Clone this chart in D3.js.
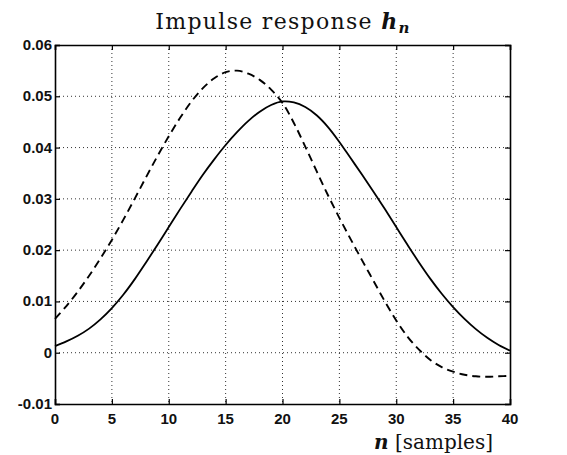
<!DOCTYPE html>
<html>
<head>
<meta charset="utf-8">
<script src="https://cdn.jsdelivr.net/npm/d3@7"></script>
<style>
  body { margin: 0; background: #fff; }
  .tick-label { font-family: "Liberation Sans", Arial, sans-serif; font-weight: bold; font-size: 15px; fill: #111; }
  .serif { font-family: "DejaVu Serif", "Liberation Serif", serif; fill: #111; }
</style>
</head>
<body>
<div id="chart-area"></div>
<script>
// sample index n
var samples = [0,1,2,3,4,5,6,7,8,9,10,11,12,13,14,15,16,17,18,19,20,
               21,22,23,24,25,26,27,28,29,30,31,32,33,34,35,36,37,38,39,40];

// solid curve
var hSolid = [0.0013,0.0022,0.0033,0.0047,0.0065,0.0087,0.0113,0.0143,0.0176,0.0210,
              0.0245,0.0280,0.0314,0.0347,0.0377,0.0405,0.0430,0.0452,0.0470,0.0483,
              0.0490,0.0488,0.0479,0.0463,0.0440,0.0411,0.0379,0.0347,0.0314,0.0280,
              0.0245,0.0210,0.0176,0.0144,0.0115,0.0089,0.0066,0.0046,0.0029,0.0015,0.0004];

// dashed curve
var hDashed = [0.0066,0.0091,0.0119,0.0150,0.0184,0.0220,0.0259,0.0300,0.0342,0.0383,
               0.0422,0.0458,0.0490,0.0516,0.0535,0.0547,0.0550,0.0544,0.0532,0.0513,
               0.0487,0.0448,0.0402,0.0354,0.0307,0.0263,0.0221,0.0180,0.0140,0.0100,
               0.0063,0.0031,0.0006,-0.0014,-0.0028,-0.0037,-0.0043,-0.0046,-0.0047,-0.0046,-0.0045];

var xTicks = [0,5,10,15,20,25,30,35,40];
var yTicks = [-0.01,0,0.01,0.02,0.03,0.04,0.05,0.06];
var yTickLabels = ["-0.01","0","0.01","0.02","0.03","0.04","0.05","0.06"];

var margin = {left: 55, right: 57, top: 45, bottom: 51};
var W = 567, H = 455;
var width = W - margin.left - margin.right;
var height = H - margin.top - margin.bottom;

var svg = d3.select('#chart-area')
  .append('svg')
  .attr('width', W)
  .attr('height', H);

var g = svg.append('g')
  .attr('transform', 'translate(' + margin.left + ',' + margin.top + ')');

var x = d3.scaleLinear().domain([0, 40]).range([0, width]);
var y = d3.scaleLinear().domain([-0.01, 0.06]).range([height, 0]);

// grid
g.append('g').attr('class', 'grid')
  .selectAll('line.vg').data(xTicks.slice(1, -1)).enter()
  .append('line')
  .attr('x1', d => x(d)).attr('x2', d => x(d))
  .attr('y1', 0).attr('y2', height)
  .attr('stroke', '#333').attr('stroke-width', 1)
  .attr('stroke-dasharray', '1,3');

g.append('g').attr('class', 'grid')
  .selectAll('line.hg').data(yTicks.slice(1, -1)).enter()
  .append('line')
  .attr('y1', d => y(d)).attr('y2', d => y(d))
  .attr('x1', 0).attr('x2', width)
  .attr('stroke', '#333').attr('stroke-width', 1)
  .attr('stroke-dasharray', '1,3');

// axes, ticks pointing inward
var bottomAxis = d3.axisBottom(x).tickValues(xTicks).tickSize(-5).tickFormat('');
var topAxis = d3.axisTop(x).tickValues(xTicks).tickSize(-5).tickFormat('');
var leftAxis = d3.axisLeft(y).tickValues(yTicks).tickSize(-5).tickFormat('');
var rightAxis = d3.axisRight(y).tickValues(yTicks).tickSize(-5).tickFormat('');

g.append('g').attr('transform', 'translate(0,' + height + ')').call(bottomAxis);
g.append('g').call(topAxis);
g.append('g').call(leftAxis);
g.append('g').attr('transform', 'translate(' + width + ',0)').call(rightAxis);

g.selectAll('.domain').attr('stroke', '#000').attr('stroke-width', 1.6);
g.selectAll('.tick line').attr('stroke', '#000').attr('stroke-width', 1.2);

// tick labels
g.selectAll('text.xl').data(xTicks).enter()
  .append('text')
  .attr('class', 'tick-label')
  .attr('x', d => x(d))
  .attr('y', height + 20)
  .attr('text-anchor', 'middle')
  .text(d => d);

g.selectAll('text.yl').data(yTicks).enter()
  .append('text')
  .attr('class', 'tick-label')
  .attr('x', -3)
  .attr('y', d => y(d) + 5)
  .attr('text-anchor', 'end')
  .text((d, i) => yTickLabels[i]);

// curves
var line = d3.line()
  .x((d, i) => x(samples[i]))
  .y(d => y(d))
  .curve(d3.curveCatmullRom);

g.append('path')
  .datum(hSolid)
  .attr('fill', 'none')
  .attr('stroke', '#000')
  .attr('stroke-width', 1.8)
  .attr('d', line);

g.append('path')
  .datum(hDashed)
  .attr('fill', 'none')
  .attr('stroke', '#000')
  .attr('stroke-width', 1.9)
  .attr('stroke-dasharray', '8,5')
  .attr('d', line);

// title
var title = svg.append('text')
  .attr('class', 'serif')
  .attr('x', 283)
  .attr('y', 29)
  .attr('text-anchor', 'middle')
  .attr('font-size', '22px')
  .attr('letter-spacing', '1.3px');
title.append('tspan').text('Impulse response ');
title.append('tspan').attr('font-style', 'italic').attr('font-weight', 'bold').text('h');
title.append('tspan').attr('font-style', 'italic').attr('font-weight', 'bold').attr('font-size', '15px').attr('dy', 4).text('n');

// x label
var xl = svg.append('text')
  .attr('class', 'serif')
  .attr('x', 493)
  .attr('y', 449)
  .attr('text-anchor', 'end')
  .attr('font-size', '20px');
xl.append('tspan').attr('font-style', 'italic').attr('font-weight', 'bold').text('n');
xl.append('tspan').text(' [samples]');
</script>
</body>
</html>
